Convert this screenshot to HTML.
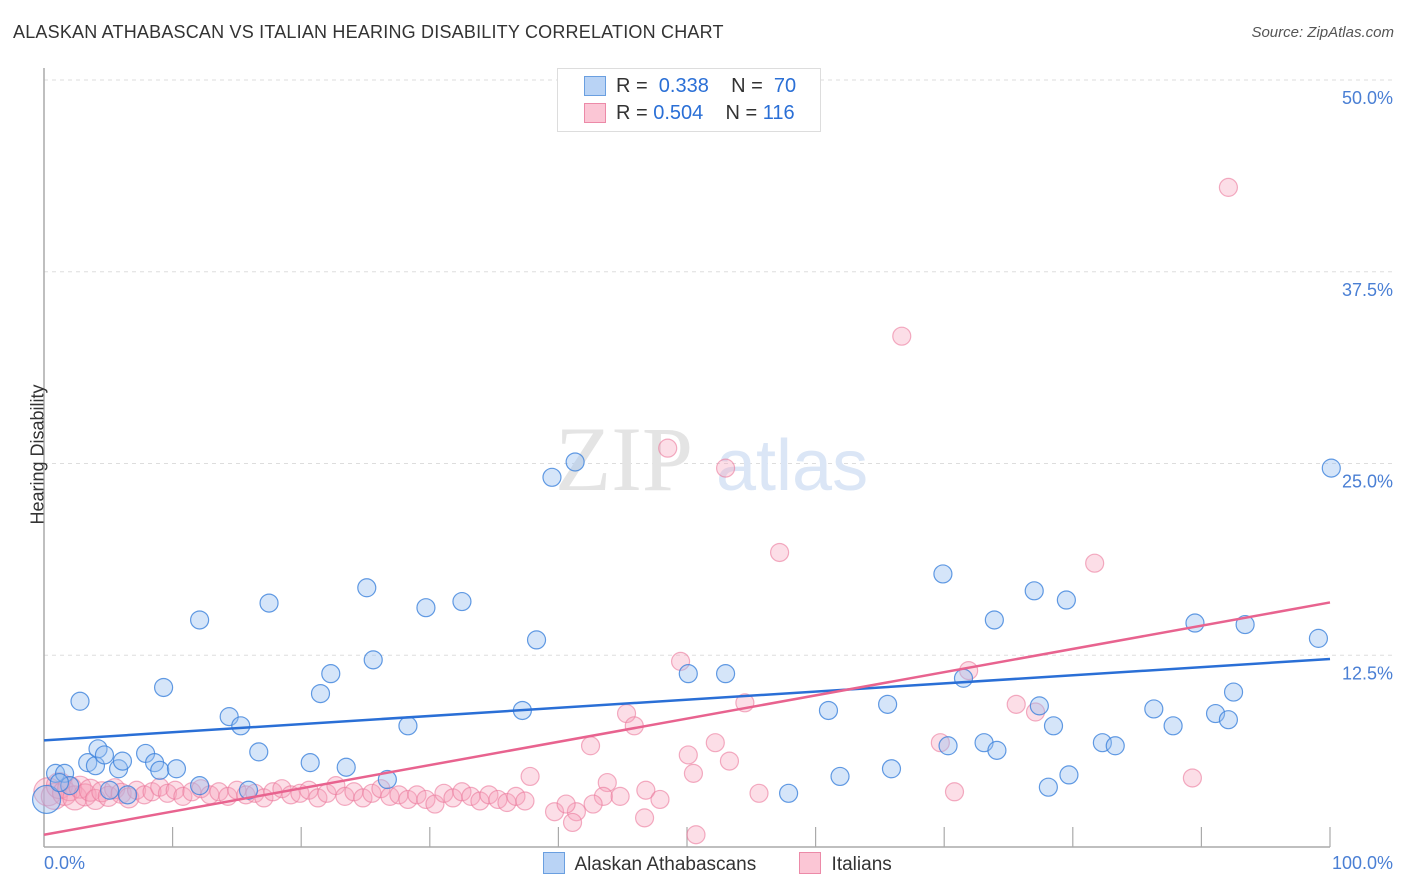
<!DOCTYPE html>
<html><head><meta charset="utf-8"><style>
body{margin:0;background:#fff;font-family:"Liberation Sans",sans-serif;}
#wrap{position:relative;width:1406px;height:892px;overflow:hidden;}
.t{position:absolute;white-space:nowrap;}
</style></head><body>
<div id="wrap">
<div class="t" style="left:13px;top:22px;font-size:18px;color:#333;letter-spacing:0.2px">ALASKAN ATHABASCAN VS ITALIAN HEARING DISABILITY CORRELATION CHART</div>
<div class="t" style="right:12px;top:24px;font-size:15px;color:#555;font-style:italic">Source: ZipAtlas.com</div>
<svg id="svg" width="1406" height="892" style="position:absolute;left:0;top:0"></svg>
</div>
<script>
const yTicks=[12.5,25,37.5,50];
const yTickLabels=["12.5%","25.0%","37.5%","50.0%"];
const blueX=[0.2,0.9,1.6,2.8,3.4,4.0,4.2,4.7,5.8,6.1,7.9,8.6,9.3,9.0,10.3,12.1,12.1,14.4,15.3,15.9,16.7,17.5,20.7,21.5,22.3,23.5,25.1,25.6,26.7,28.3,29.7,32.5,37.2,38.3,39.5,41.3,50.1,53.0,57.9,61.9,61.0,65.6,65.9,69.9,70.3,71.5,73.1,73.9,74.1,77.0,77.4,78.1,78.5,79.5,79.7,82.3,83.3,86.3,87.8,89.5,91.1,92.1,92.5,93.4,99.1,100.1,2.0,6.5,5.1,1.2];
const blueY=[3.1,4.8,4.8,9.5,5.5,5.3,6.4,6.0,5.1,5.6,6.1,5.5,10.4,5.0,5.1,14.8,4.0,8.5,7.9,3.7,6.2,15.9,5.5,10.0,11.3,5.2,16.9,12.2,4.4,7.9,15.6,16.0,8.9,13.5,24.1,25.1,11.3,11.3,3.5,4.6,8.9,9.3,5.1,17.8,6.6,11.0,6.8,14.8,6.3,16.7,9.2,3.9,7.9,16.1,4.7,6.8,6.6,9.0,7.9,14.6,8.7,8.3,10.1,14.5,13.6,24.7,4.0,3.4,3.7,4.2];
const pinkX=[0.3,0.8,1.2,1.6,2.0,2.4,2.8,3.2,3.6,4.0,4.5,5.0,5.5,6.0,6.6,7.2,7.8,8.4,9.0,9.6,10.2,10.8,11.5,12.2,12.9,13.6,14.3,15.0,15.7,16.4,17.1,17.8,18.5,19.2,19.9,20.6,21.3,22.0,22.7,23.4,24.1,24.8,25.5,26.2,26.9,27.6,28.3,29.0,29.7,30.4,31.1,31.8,32.5,33.2,33.9,34.6,35.3,36.0,36.7,37.4,
48.5,53.0,57.2,66.7,92.1,81.7,49.5,71.9,45.3,45.9,54.5,42.5,50.1,52.2,53.3,50.5,75.6,77.1,69.7,89.3,70.8,55.6,43.8,46.8,47.9,46.7,41.4,41.1,37.8,39.7,40.6,50.7,43.5,44.8,42.7];
const pinkY=[3.6,3.3,4.0,3.5,3.8,3.2,3.9,3.4,3.7,3.1,3.6,3.3,3.8,3.5,3.2,3.7,3.4,3.6,3.9,3.5,3.7,3.3,3.6,3.8,3.4,3.6,3.3,3.7,3.4,3.5,3.2,3.6,3.8,3.4,3.5,3.7,3.2,3.5,4.0,3.3,3.6,3.2,3.5,3.8,3.3,3.4,3.1,3.4,3.1,2.8,3.5,3.2,3.6,3.3,3.0,3.4,3.1,2.9,3.3,3.0,
26.0,24.7,19.2,33.3,43.0,18.5,12.1,11.5,8.7,7.9,9.4,6.6,6.0,6.8,5.6,4.8,9.3,8.8,6.8,4.5,3.6,3.5,4.2,3.7,3.1,1.9,2.3,1.6,4.6,2.3,2.8,0.8,3.3,3.3,2.8];
const pinkSize=[14,13,13,12,12,12,11,11,11,10,10,10,10,10,10];
const L=44,R=1330,T=80,B=847;
const sx=v=>L+(v/100)*(R-L);
const sy=v=>B-(v/50)*(B-T);
const svg=document.getElementById('svg');
const NS='http://www.w3.org/2000/svg';
function mk(tag,attrs){const e=document.createElementNS(NS,tag);for(const k in attrs)e.setAttribute(k,attrs[k]);svg.appendChild(e);return e;}
yTicks.forEach((v,i)=>{
  const g=mk('line',{x1:L,x2:1393,y1:sy(v),y2:sy(v),stroke:'#ddd','stroke-dasharray':'4,4'});
  
  
  const t=mk('text',{x:1393,y:sy(v)+24,'text-anchor':'end','font-size':18,fill:'#4a7fd4','font-family':'Liberation Sans'});
  t.textContent=yTickLabels[i];
  
  
});
const ya=mk('line',{x1:L,x2:L,y1:68,y2:B,stroke:'#aaa','stroke-width':1.5});


const xa=mk('line',{x1:L,x2:R,y1:B,y2:B,stroke:'#aaa','stroke-width':1.5});


for(let i=1;i<=10;i++){const tk=mk('line',{x1:sx(i*10),x2:sx(i*10),y1:827,y2:B,stroke:'#aaa','stroke-width':1.2});

}
const wm=mk('text',{x:555,y:490,'font-size':92,fill:'#e4e4e4','font-family':'Liberation Serif'});wm.textContent='ZIP';


const wm2=mk('text',{x:716,y:490,'font-size':72,fill:'#dbe6f6','font-family':'Liberation Sans'});wm2.textContent='atlas';


pinkX.forEach((x,i)=>{const c=mk('circle',{cx:sx(x),cy:sy(pinkY[i]),r:pinkSize[i]||9,fill:'rgba(247,160,185,0.35)',stroke:'rgba(235,120,155,0.6)','stroke-width':1.2});

});
blueX.forEach((x,i)=>{const c=mk('circle',{cx:sx(x),cy:sy(blueY[i]),r:i==0?14:9,fill:'rgba(150,190,240,0.4)',stroke:'rgba(60,130,220,0.8)','stroke-width':1.2});

});
function fit(xs,ys){const n=xs.length;let mx=0,my=0;xs.forEach((x,i)=>{mx+=x;my+=ys[i];});mx/=n;my/=n;let sxy=0,sxx=0;xs.forEach((x,i)=>{sxy+=(x-mx)*(ys[i]-my);sxx+=(x-mx)*(x-mx);});const b=sxy/sxx;return [my-b*mx,b];}
const fb=fit(blueX,blueY),fp=fit(pinkX,pinkY);
const bl=mk('line',{x1:sx(0),x2:sx(100),y1:sy(fb[0]),y2:sy(fb[0]+fb[1]*100),stroke:'#2a6fd6','stroke-width':2.5});


const pl=mk('line',{x1:sx(0),x2:sx(100),y1:sy(fp[0]),y2:sy(fp[0]+fp[1]*100),stroke:'#e8638f','stroke-width':2.5});


</script>
<div class="t" style="left:-32px;top:444px;font-size:18px;color:#333;transform:rotate(-90deg)">Hearing Disability</div>
<div class="t" style="left:44px;top:853px;font-size:18px;color:#4a7fd4">0.0%</div>
<div class="t" style="right:13px;top:853px;font-size:18px;color:#4a7fd4">100.0%</div>
<div style="position:absolute;left:557px;top:68px;width:262px;height:62px;border:1px solid #ddd;background:#fff;font-size:20px;color:#333">
 <div style="position:absolute;left:26px;top:7px;width:20px;height:18px;background:#b9d3f5;border:1px solid #6a9fe0"></div>
 <div class="t" style="left:58px;top:6px">R = <span style="color:#2a6fd6">&nbsp;0.338</span>&nbsp;&nbsp;&nbsp; N = <span style="color:#2a6fd6">&nbsp;70</span></div>
 <div style="position:absolute;left:26px;top:34px;width:20px;height:18px;background:#fbc6d5;border:1px solid #ec8aa8"></div>
 <div class="t" style="left:58px;top:33px">R = <span style="color:#2a6fd6">0.504</span>&nbsp;&nbsp;&nbsp; N = <span style="color:#2a6fd6">116</span></div>
</div>
<div style="position:absolute;left:543px;top:852px;font-size:19px;color:#333">
 <div style="position:absolute;left:0;top:0;white-space:nowrap"><span style="display:inline-block;width:20px;height:20px;background:#b9d3f5;border:1px solid #6a9fe0;vertical-align:-4px"></span>&nbsp; Alaskan Athabascans</div>
 <div style="position:absolute;left:256px;top:0;white-space:nowrap"><span style="display:inline-block;width:20px;height:20px;background:#fbc6d5;border:1px solid #ec8aa8;vertical-align:-4px"></span>&nbsp; Italians</div>
</div>
</body></html>
